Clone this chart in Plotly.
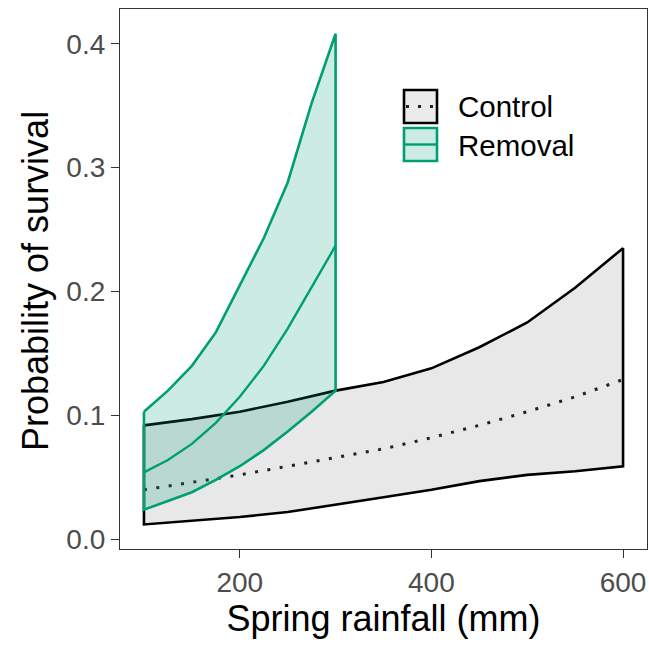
import plotly.graph_objects as go

# ---- data ----
rain_control = [100, 150, 200, 250, 300, 350, 400, 450, 500, 550, 600]
control_mean = [0.040, 0.046, 0.052, 0.059, 0.066, 0.073, 0.082, 0.092, 0.103, 0.115, 0.129]
control_upper = [0.092, 0.097, 0.103, 0.111, 0.120, 0.127, 0.138, 0.155, 0.175, 0.203, 0.235]
control_lower = [0.012, 0.015, 0.018, 0.022, 0.028, 0.034, 0.040, 0.047, 0.052, 0.055, 0.059]

rain_removal = [100, 125, 150, 175, 200, 225, 250, 275, 300]
removal_mean = [0.054, 0.064, 0.077, 0.094, 0.115, 0.140, 0.170, 0.203, 0.237]
removal_upper = [0.103, 0.120, 0.140, 0.167, 0.205, 0.243, 0.288, 0.352, 0.408]
removal_lower = [0.024, 0.031, 0.038, 0.048, 0.059, 0.072, 0.087, 0.103, 0.120]

x_ticks = [200, 400, 600]
y_ticks = [0.0, 0.1, 0.2, 0.3, 0.4]
y_tick_labels = ["0.0", "0.1", "0.2", "0.3", "0.4"]

GREEN = "#009E73"
GREEN_FILL = "rgba(0,158,115,0.2)"
GREY_FILL = "rgba(128,128,128,0.18)"
FONT = "Liberation Sans, Arial, sans-serif"

# the page's body margin is removed below, so the figure fills the window
FIG_W, FIG_H = 649, 647
L, R, T, B = 120, 647, 9, 549
W, H = R - L, B - T


def ribbon(xs, lo, hi):
    px = list(xs) + list(reversed(xs)) + [xs[0]]
    py = list(hi) + list(reversed(lo)) + [hi[0]]
    return px, py


fig = go.Figure()

cx, cy = ribbon(rain_control, control_lower, control_upper)
fig.add_trace(go.Scatter(x=cx, y=cy, mode="lines", fill="toself", fillcolor=GREY_FILL,
                         line=dict(color="black", width=2.6), showlegend=False, hoverinfo="skip"))
fig.add_trace(go.Scatter(x=rain_control, y=control_mean, mode="lines",
                         line=dict(color="#222222", width=3, dash="3px,9.5px"),
                         showlegend=False))

rx, ry = ribbon(rain_removal, removal_lower, removal_upper)
fig.add_trace(go.Scatter(x=rx, y=ry, mode="lines", fill="toself", fillcolor=GREEN_FILL,
                         line=dict(color=GREEN, width=2.6), showlegend=False, hoverinfo="skip"))
fig.add_trace(go.Scatter(x=rain_removal, y=removal_mean, mode="lines",
                         line=dict(color=GREEN, width=2.4), showlegend=False))


# ---- manual legend (ggplot-style keys), positions given in window pixels ----
def px2x(p):
    return (p - L) / W


def px2y(p):
    return (B - p) / H


shapes = []
shapes.append(dict(type="rect", xref="paper", yref="paper",
                   x0=px2x(404), x1=px2x(437), y0=px2y(123), y1=px2y(90),
                   fillcolor="#EBEBEB", line=dict(color="black", width=2.6)))
shapes.append(dict(type="line", xref="paper", yref="paper",
                   x0=px2x(406), x1=px2x(435), y0=px2y(106.5), y1=px2y(106.5),
                   line=dict(color="#222222", width=3, dash="3px,9px")))
shapes.append(dict(type="rect", xref="paper", yref="paper",
                   x0=px2x(404), x1=px2x(437), y0=px2y(161), y1=px2y(128),
                   fillcolor="#CCECE3", line=dict(color=GREEN, width=2.6)))
shapes.append(dict(type="line", xref="paper", yref="paper",
                   x0=px2x(405), x1=px2x(436), y0=px2y(144.5), y1=px2y(144.5),
                   line=dict(color=GREEN, width=2.4)))

annotations = [
    dict(text="Control", xref="paper", yref="paper", x=px2x(456), y=px2y(106.5),
         xanchor="left", yanchor="middle", showarrow=False,
         font=dict(family=FONT, size=29.5, color="black")),
    dict(text="Removal", xref="paper", yref="paper", x=px2x(456), y=px2y(145),
         xanchor="left", yanchor="middle", showarrow=False,
         font=dict(family=FONT, size=29.5, color="black")),
    # y-axis title
    dict(text="Probability of survival", xref="paper", yref="paper",
         x=px2x(35), y=px2y(281), xanchor="center", yanchor="middle",
         textangle=-90, showarrow=False,
         font=dict(family=FONT, size=36, color="black")),
]

fig.update_layout(
    width=FIG_W, height=FIG_H,
    margin=dict(l=L, r=FIG_W - R, t=T, b=FIG_H - B, autoexpand=False),
    paper_bgcolor="white", plot_bgcolor="white",
    font=dict(family=FONT),
    shapes=shapes, annotations=annotations,
    showlegend=False,
)
fig.update_xaxes(
    range=[75, 625], tickvals=x_ticks, ticktext=[str(v) for v in x_ticks],
    showgrid=False, zeroline=False,
    showline=True, mirror=True, linecolor="#333333", linewidth=1.3,
    ticks="outside", ticklen=8, tickwidth=1.3, tickcolor="#333333",
    tickfont=dict(family=FONT, size=28, color="#4D4D4D"),
    title=dict(text="Spring rainfall (mm)", font=dict(family=FONT, size=36, color="black"), standoff=8),
)
fig.update_yaxes(
    range=[-0.0078, 0.428], tickvals=y_ticks, ticktext=y_tick_labels,
    showgrid=False, zeroline=False,
    showline=True, mirror=True, linecolor="#333333", linewidth=1.3,
    ticks="outside", ticklen=8, tickwidth=1.3, tickcolor="#333333",
    tickfont=dict(family=FONT, size=28, color="#4D4D4D"),
)

fig.write_html("out.html",
               config={"displayModeBar": False},
               post_script="document.body.style.margin='0';"
                           "document.documentElement.style.overflow='hidden';")
